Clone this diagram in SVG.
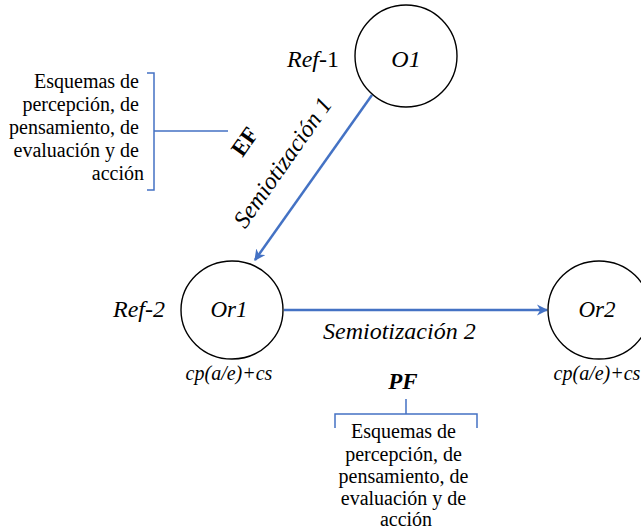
<svg xmlns="http://www.w3.org/2000/svg" width="641" height="530" viewBox="0 0 641 530">
<style>
text{font-family:"Liberation Serif","Times New Roman","DejaVu Serif",serif;fill:#000}
.node{fill:#fff;stroke:#000;stroke-width:1.4}
.conn{stroke:#4472C4;stroke-width:2.5;fill:none}
.br{stroke:#4472C4;stroke-width:1.5;fill:none}
.it{font-style:italic}
.lbl{font-size:20px}
.big{font-size:24px}
</style>
<defs>
<marker id="ah" viewBox="0 0 10 10" refX="9" refY="5" markerWidth="4.5" markerHeight="4.5" orient="auto" markerUnits="strokeWidth">
<path d="M0,0 L10,5 L0,10 L3,5 z" fill="#4472C4"/>
</marker>
</defs>
<rect width="641" height="530" fill="#fff"/>
<g id="connectors">
<line class="conn" x1="372" y1="95" x2="255" y2="260" marker-end="url(#ah)"/>
<line class="conn" x1="284" y1="310" x2="547" y2="310" marker-end="url(#ah)"/>
</g>
<g id="O1">
<ellipse class="node" cx="406" cy="56" rx="51" ry="51"/>
<text class="it big" x="406" y="67" text-anchor="middle" font-family="Liberation Serif, serif">O1</text>
<text class="big" x="287" y="67"><tspan class="it">Ref</tspan>-1</text>
</g>
<g id="Or1">
<ellipse class="node" cx="232" cy="310" rx="51" ry="49"/>
<text class="it" font-size="23" x="229" y="317" text-anchor="middle">Or1</text>
<text class="it big" x="113" y="317">Ref-2</text>
<text class="it lbl" x="229" y="380" text-anchor="middle">cp(a/e)+cs</text>
</g>
<g id="Or2">
<ellipse class="node" cx="599" cy="310" rx="51" ry="49"/>
<text class="it" font-size="23" x="597" y="317" text-anchor="middle">Or2</text>
<text class="it lbl" x="597" y="380" text-anchor="middle">cp(a/e)+cs</text>
</g>
<g id="sem1">
<text class="it big" text-anchor="middle" transform="translate(289,167) rotate(-55)">Semiotización 1</text>
</g>
<g id="sem2">
<text class="it big" x="323" y="339">Semiotización 2</text>
</g>
<g id="EF">
<text font-size="23" font-weight="bold" text-anchor="middle" transform="translate(251,146) rotate(-55)">EF</text>
<path class="br" d="M147,73 H154 V190 H147 M154,131 H228"/>
<text class="lbl" text-anchor="end">
<tspan x="144" y="88">Esquemas de</tspan>
<tspan x="144" y="111">percepción, de</tspan>
<tspan x="144" y="134">pensamiento, de</tspan>
<tspan x="144" y="157">evaluación y de</tspan>
<tspan x="144" y="180">acción</tspan>
</text>
</g>
<g id="PF">
<text class="it" font-size="23" font-weight="bold" x="403" y="389" text-anchor="middle">PF</text>
<path class="br" d="M406,399 V414 M335,428 V414 H477 V428"/>
<text class="lbl" text-anchor="middle">
<tspan x="406" y="438">Esquemas de</tspan>
<tspan x="406" y="461">percepción, de</tspan>
<tspan x="406" y="483">pensamiento, de</tspan>
<tspan x="406" y="505">evaluación y de</tspan>
<tspan x="406" y="526">acción</tspan>
</text>
</g>
</svg>
